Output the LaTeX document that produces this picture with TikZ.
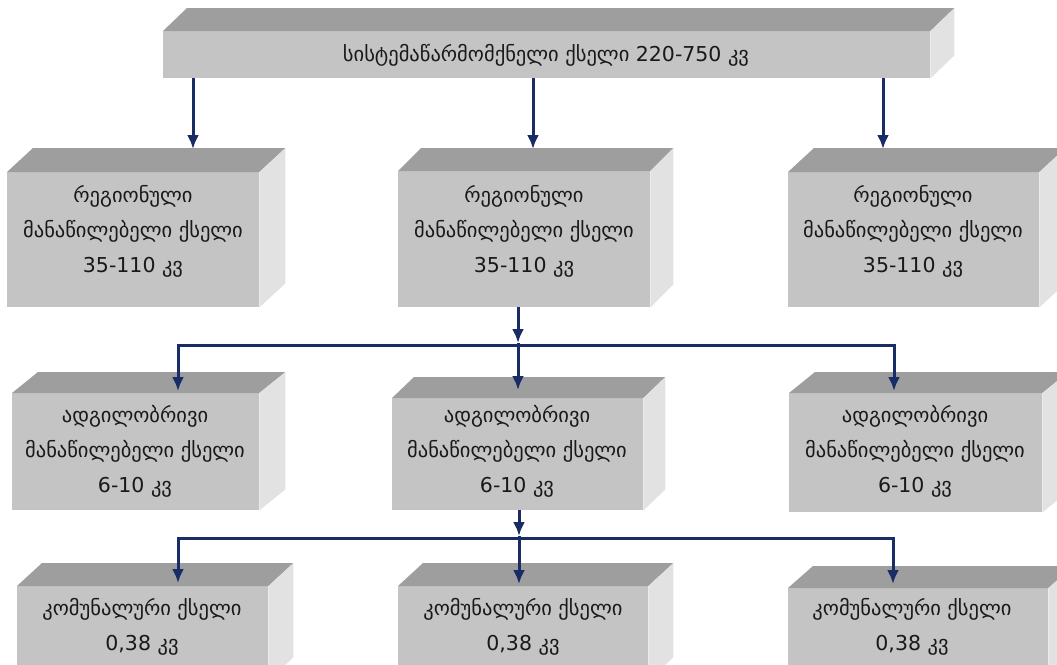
\documentclass[tikz,border=0pt]{standalone}
\usepackage{fontspec}
\setmainfont{DejaVu Sans}
\usetikzlibrary{arrows.meta,calc}
\definecolor{frontc}{RGB}{196,196,196}
\definecolor{topc}{RGB}{158,158,158}
\definecolor{sidec}{RGB}{226,226,226}
\definecolor{navy}{RGB}{26,44,102}
\definecolor{txtc}{RGB}{25,25,25}
\tikzset{
  front/.style={fill=frontc, draw=none, inner sep=0pt, rectangle, anchor=north west},
  topface/.style={fill=topc},
  sideface/.style={fill=sidec},
  lbl/.style={align=center, text=txtc, font=\fontsize{20.5}{35}\selectfont, inner sep=0pt},
  conn/.style={draw=navy, line width=3pt},
  arr/.style={conn, -{Latex[length=14pt,width=12pt]}},
  dblarr/.style={conn, {Latex[length=14pt,width=12pt]}-{Latex[length=14pt,width=12pt]}},
}
\newcommand{\cubebox}[7]{%
  \node[front, minimum width={(#4)-(#2)}, minimum height={(#5)-(#3)}] (#1) at (#2,#3) {};
  \fill[topface] (#1.north west) -- ++(#6,-#7) -- ($(#1.north east)+(#6,-#7)$) -- (#1.north east) -- cycle;
  \fill[sideface] (#1.north east) -- ++(#6,-#7) -- ($(#1.south east)+(#6,-#7)$) -- (#1.south east) -- cycle;
}
\begin{document}
\begin{tikzpicture}[x=1pt,y=-1pt]
\useasboundingbox (0,0) rectangle (1057,664);
\clip (0,0) rectangle (1057,664);
% boxes
\cubebox{top}{163}{31}{930}{78}{24}{23}
\cubebox{rA}{7}{172}{259}{307}{26}{24}
\cubebox{rB}{398}{171}{650}{307}{23}{23}
\cubebox{rC}{788}{172}{1039}{307}{26}{24}
\cubebox{lA}{12}{393}{259}{510}{26}{21}
\cubebox{lB}{392}{398}{643}{510}{22}{21}
\cubebox{lC}{789}{393}{1042}{512}{26}{21}
\cubebox{cA}{17}{586}{268}{680}{25}{23}
\cubebox{cB}{398}{586}{648}{680}{25}{23}
\cubebox{cC}{788}{588}{1048}{680}{25}{22}
% texts
\node[lbl] (ttop) at (546,55) {სისტემაწარმომქნელი ქსელი 220-750 კვ};
\node[lbl] (trA) at (133,231) {რეგიონული\\მანაწილებელი ქსელი\\35-110 კვ};
\node[lbl] (trB) at (524,231) {რეგიონული\\მანაწილებელი ქსელი\\35-110 კვ};
\node[lbl] (trC) at (913,231) {რეგიონული\\მანაწილებელი ქსელი\\35-110 კვ};
\node[lbl] (tlA) at (135,451) {ადგილობრივი\\მანაწილებელი ქსელი\\6-10 კვ};
\node[lbl] (tlB) at (517,451) {ადგილობრივი\\მანაწილებელი ქსელი\\6-10 კვ};
\node[lbl] (tlC) at (915,451) {ადგილობრივი\\მანაწილებელი ქსელი\\6-10 კვ};
\node[lbl] (tcA) at (142,627) {კომუნალური ქსელი\\0,38 კვ};
\node[lbl] (tcB) at (523,627) {კომუნალური ქსელი\\0,38 კვ};
\node[lbl] (tcC) at (912,627) {კომუნალური ქსელი\\0,38 კვ};
% connector points
\coordinate (a1) at (193,149);
\coordinate (a2) at (533,149);
\coordinate (a3) at (883,149);
\coordinate (j1) at (518,343);
\coordinate (h1r) at (894,345);
\coordinate (t2a) at (178,391);
\coordinate (t2b) at (518,390);
\coordinate (t2c) at (894,391);
\coordinate (j2) at (519,536);
\coordinate (h2r) at (893,538);
\coordinate (t3a) at (178,583);
\coordinate (t3b) at (519,584);
\coordinate (t3c) at (893,584);
% connectors
\draw[arr] (top.south -| a1) -- (a1);
\draw[arr] (top.south -| a2) -- (a2);
\draw[arr] (top.south -| a3) -- (a3);
\draw[arr] (rB.south -| j1) -- (j1);
\draw[dblarr] (t2a) |- (h1r) -- (t2c);
\draw[arr] (j1) -- (t2b);
\draw[arr] (lB.south -| j2) -- (j2);
\draw[dblarr] (t3a) |- (h2r) -- (t3c);
\draw[arr] (j2) -- (t3b);
\end{tikzpicture}
\end{document}
